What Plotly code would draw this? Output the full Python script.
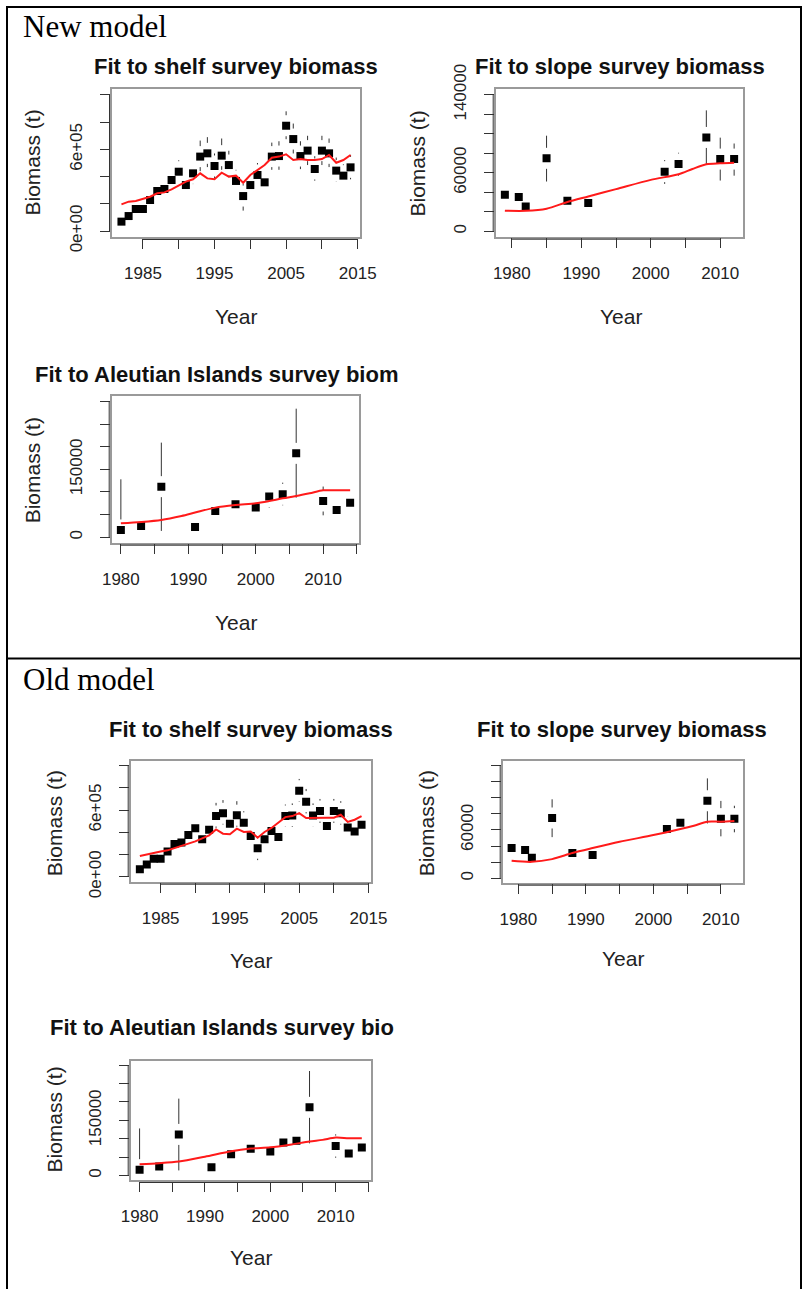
import plotly.graph_objects as go

W, H = 804, 1289

# ---------------- data (thousand tonnes -> converted to t below) ----------------
shelf_years = list(range(1982, 2015))
shelf_obs = [69, 110, 162, 162, 228, 294, 309, 375, 436, 338, 424, 547, 571, 478, 554,
             485, 368, 257, 338, 412, 358, 547, 551, 774, 676, 551, 591, 456, 591, 571,
             444, 407, 468]
shelf_lo = [58, 94, 138, 138, 195, 250, 265, 320, 360, 280, 345, 440, 470, 390, 450,
            395, 300, 150, 275, 335, 290, 450, 450, 675, 570, 455, 485, 370, 485, 470,
            365, 330, 380]
shelf_hi = [80, 128, 188, 188, 265, 345, 365, 440, 520, 400, 500, 665, 690, 570, 680,
            590, 450, 345, 410, 500, 430, 650, 660, 880, 790, 660, 700, 550, 700, 680,
            540, 490, 560]
shelf_fit_new = [196, 216, 221, 235, 252, 277, 284, 306, 333, 363, 380, 424, 387, 380,
                 429, 400, 407, 355, 412, 449, 485, 539, 547, 564, 522, 529, 522, 522,
                 529, 559, 502, 522, 559]
shelf_fit_old = [188, 203, 218, 228, 238, 258, 278, 298, 319, 346, 373, 426, 388, 382,
                 433, 403, 408, 352, 403, 439, 484, 537, 546, 573, 528, 531, 531, 531,
                 531, 558, 493, 513, 546]

slope_years = [1979, 1981, 1982, 1985, 1988, 1991, 2002, 2004, 2008, 2010, 2012]
slope_obs = [37.4, 35.0, 25.5, 74.8, 31.3, 28.9, 61.1, 69.0, 96.2, 74.0, 74.0]
slope_lo = [29, 28, 17, 51, 24, 23, 48.6, 57, 68, 52, 57]
slope_hi = [45, 45, 32, 98, 38, 34, 73, 80.5, 124, 96, 90]
slope_fit_years = [1979, 1982, 1985, 1988, 1991, 1995, 2000, 2004, 2006, 2008, 2010, 2012]
slope_fit_new = [21.1, 21.0, 23.1, 30.0, 35.7, 43.2, 52.7, 58.5, 63.9, 68.7, 69.7, 70.3]
slope_fit_old = [21.6, 20.3, 23.7, 31.2, 37.4, 45.2, 53.6, 61.0, 65.2, 70.2, 70.2, 71.0]

ai_years = [1980, 1983, 1986, 1991, 1994, 1997, 2000, 2002, 2004, 2006, 2010, 2012, 2014]
ai_obs = [16.1, 25.0, 111.8, 22.7, 58.0, 72.8, 65.5, 89.8, 94.8, 185.3, 80.1, 60.2, 76.5]
ai_lo = [3, 18, 14, 16, 41, 56.7, 49, 65.5, 70.6, 87.5, 48.5, 39.7, 54.5]
ai_hi = [128, 33, 209, 30, 76.5, 91, 82, 113, 120.6, 284, 112, 81.6, 90]
ai_fit_new_years = [1980, 1983, 1986, 1989, 1991, 1994, 1997, 2000, 2002, 2004, 2006, 2008, 2010, 2012, 2014]
ai_fit_new = [30.9, 33.8, 38.2, 47.0, 54.5, 65.5, 71.2, 75.0, 80.0, 86.0, 91.0, 97.0, 103.6, 103.6, 103.6]
ai_fit_old_years = [1980, 1983, 1986, 1990, 1994, 1997, 2000, 2003, 2006, 2008, 2010, 2012, 2014]
ai_fit_old = [30.9, 33.6, 38.0, 51.3, 66.1, 73.3, 76.7, 83.8, 92.6, 97.0, 103.2, 101.6, 101.6]

# tick labels
shelf_xticks = [1985, 1990, 1995, 2000, 2005, 2010, 2015]
shelf_xlabels = ["1985", "", "1995", "", "2005", "", "2015"]
shelf_yticks = [0, 200000, 400000, 600000, 800000, 1000000]
shelf_ylabels = ["0e+00", "", "", "6e+05", "", ""]
slope_xticks = [1980, 1985, 1990, 1995, 2000, 2005, 2010]
slope_xlabels = ["1980", "", "1990", "", "2000", "", "2010"]
slope_yticks = [0, 20000, 40000, 60000, 80000, 100000, 120000, 140000]
slope_ylabels_new = ["0", "", "", "60000", "", "", "", "140000"]
slope_ylabels_old = ["0", "", "", "60000", "", "", "", ""]
ai_xticks = [1980, 1985, 1990, 1995, 2000, 2005, 2010, 2015]
ai_xlabels = ["1980", "", "1990", "", "2000", "", "2010", ""]
ai_yticks = [0, 50000, 100000, 150000, 200000, 250000, 300000]
ai_ylabels = ["0", "", "", "150000", "", "", ""]

k = lambda a: [v * 1000 for v in a]

# ---------------- panel layout (pixel boxes) ----------------
panels = [
    dict(title="Fit to shelf survey biomass", box=(112, 360, 89, 237),
         xr=(1980.68, 2015.32), yr=(-44000, 1044000),
         yrs=shelf_years, obs=k(shelf_obs), lo=k(shelf_lo), hi=k(shelf_hi),
         fx=shelf_years, fy=k(shelf_fit_new), smooth=False,
         xt=shelf_xticks, xl=shelf_xlabels, yt=shelf_yticks, yl=shelf_ylabels,
         tpos=(236, 67), ytpos=(32.5, 163), xtpos=(236, 316)),
    dict(title="Fit to slope survey biomass", box=(495.7, 743.3, 89.3, 236.7),
         xr=(1977.68, 2013.32), yr=(-5600, 145600),
         yrs=slope_years, obs=k(slope_obs), lo=k(slope_lo), hi=k(slope_hi),
         fx=slope_fit_years, fy=k(slope_fit_new), smooth=True,
         xt=slope_xticks, xl=slope_xlabels, yt=slope_yticks, yl=slope_ylabels_new,
         tpos=(619.5, 67), ytpos=(416.5, 164), xtpos=(620.5, 316)),
    dict(title="Fit to Aleutian Islands survey biom", box=(111.7, 359.3, 396, 542.7),
         xr=(1978.64, 2015.36), yr=(-12000, 312000),
         yrs=ai_years, obs=k(ai_obs), lo=k(ai_lo), hi=k(ai_hi),
         fx=ai_fit_new_years, fy=k(ai_fit_new), smooth=True,
         xt=ai_xticks, xl=ai_xlabels, yt=ai_yticks, yl=ai_ylabels,
         tpos=(216.7, 374), ytpos=(32.5, 470.8), xtpos=(235.8, 622.5)),
    dict(title="Fit to shelf survey biomass", box=(130.7, 370.7, 760.7, 881.7),
         xr=(1980.68, 2015.32), yr=(-44000, 1044000),
         yrs=shelf_years, obs=k(shelf_obs), lo=k(shelf_lo), hi=k(shelf_hi),
         fx=shelf_years, fy=k(shelf_fit_old), smooth=False,
         xt=shelf_xticks, xl=shelf_xlabels, yt=shelf_yticks, yl=shelf_ylabels,
         tpos=(250.8, 729), ytpos=(54, 823.3), xtpos=(250.8, 960)),
    dict(title="Fit to slope survey biomass", box=(502.7, 743.3, 761, 882.7),
         xr=(1977.68, 2013.32), yr=(-5600, 145600),
         yrs=slope_years, obs=k(slope_obs), lo=k(slope_lo), hi=k(slope_hi),
         fx=slope_fit_years, fy=k(slope_fit_old), smooth=True,
         xt=slope_xticks, xl=slope_xlabels, yt=slope_yticks, yl=slope_ylabels_old,
         tpos=(621.7, 729), ytpos=(426, 823.3), xtpos=(622.5, 958.5)),
    dict(title="Fit to Aleutian Islands survey bio", box=(130.7, 370.7, 1060.7, 1180),
         xr=(1978.64, 2015.36), yr=(-12000, 312000),
         yrs=ai_years, obs=k(ai_obs), lo=k(ai_lo), hi=k(ai_hi),
         fx=ai_fit_old_years, fy=k(ai_fit_old), smooth=True,
         xt=ai_xticks, xl=ai_xlabels, yt=ai_yticks, yl=ai_ylabels,
         tpos=(222.5, 1027.5), ytpos=(53.5, 1120), xtpos=(250.8, 1257)),
]

SANS = "Liberation Sans, Arial, Helvetica, sans-serif"
SERIF = "Liberation Serif, Times New Roman, serif"
px = lambda p: p / W
py = lambda p: 1 - p / H

fig = go.Figure()
annotations = []
shapes = []
layout = {}

for i, p in enumerate(panels):
    n = "" if i == 0 else str(i + 1)
    xa, ya = "x" + n, "y" + n
    l, r, t, b = p["box"]
    gap = 10.5 * (p["yr"][1] - p["yr"][0]) / (b - t)

    # confidence-interval segments with a gap around each point (plotCI style)
    cx, cy = [], []
    for x, o, lo, hi in zip(p["yrs"], p["obs"], p["lo"], p["hi"]):
        if hi > o + gap:
            cx += [x, x, None]; cy += [o + gap, hi, None]
        if lo < o - gap:
            cx += [x, x, None]; cy += [lo, o - gap, None]
    fig.add_trace(go.Scatter(x=cx, y=cy, mode="lines", xaxis=xa, yaxis=ya,
                             line=dict(color="#333333", width=1), hoverinfo="skip",
                             showlegend=False))
    fig.add_trace(go.Scatter(x=p["yrs"], y=p["obs"], mode="markers", xaxis=xa, yaxis=ya,
                             marker=dict(symbol="square", size=8, color="black",
                                         line=dict(width=0)),
                             showlegend=False))
    fig.add_trace(go.Scatter(x=p["fx"], y=p["fy"], mode="lines", xaxis=xa, yaxis=ya,
                             line=dict(color="#ff1a1a", width=2,
                                       shape="spline" if p["smooth"] else "linear",
                                       smoothing=0.8),
                             showlegend=False))

    common = dict(showgrid=False, zeroline=False, showline=True, mirror=True,
                  automargin=False,
                  linecolor="#9a9a9a", linewidth=1.5, ticks="outside", ticklen=10,
                  tickwidth=1, tickcolor="#333", fixedrange=True,
                  tickfont=dict(family=SANS, size=17, color="#222"))
    layout["xaxis" + n] = dict(common, domain=[px(l), px(r)], range=list(p["xr"]),
                               anchor=ya, tickmode="array", tickvals=p["xt"],
                               ticktext=p["xl"], tickangle=0, ticklabelstandoff=10)
    layout["yaxis" + n] = dict(common, domain=[py(b), py(t)], range=list(p["yr"]),
                               anchor=xa, tickmode="array", tickvals=p["yt"],
                               ticktext=p["yl"], tickangle=-90, ticklabelstandoff=11)

    # R-style axis lines spanning first..last tick, just outside the box
    shapes.append(dict(type="line", xref="paper", yref=ya, x0=px(l - 2.5), x1=px(l - 2.5),
                       y0=p["yt"][0], y1=p["yt"][-1], line=dict(color="#333", width=1)))
    shapes.append(dict(type="line", xref=xa, yref="paper", x0=p["xt"][0], x1=p["xt"][-1],
                       y0=py(b + 2.5), y1=py(b + 2.5), line=dict(color="#333", width=1)))

    annotations.append(dict(text="<b>" + p["title"] + "</b>", x=px(p["tpos"][0]),
                            y=py(p["tpos"][1]), xref="paper", yref="paper",
                            xanchor="center", yanchor="middle", showarrow=False,
                            font=dict(family=SANS, size=22, color="#111")))
    annotations.append(dict(text="Biomass (t)", x=px(p["ytpos"][0]), y=py(p["ytpos"][1]),
                            xref="paper", yref="paper", xanchor="center", yanchor="middle",
                            textangle=-90, showarrow=False,
                            font=dict(family=SANS, size=21, color="#222")))
    annotations.append(dict(text="Year", x=px(p["xtpos"][0]), y=py(p["xtpos"][1]),
                            xref="paper", yref="paper", xanchor="center", yanchor="middle",
                            showarrow=False, font=dict(family=SANS, size=21, color="#222")))

# table headings
annotations.append(dict(text="New model", x=px(21), y=py(26.5), xref="paper", yref="paper",
                        xanchor="left", yanchor="middle", showarrow=False,
                        font=dict(family=SERIF, size=31, color="black")))
annotations.append(dict(text="Old model", x=px(21), y=py(679), xref="paper", yref="paper",
                        xanchor="left", yanchor="middle", showarrow=False,
                        font=dict(family=SERIF, size=31, color="black")))

# table borders
border = dict(color="black", width=2)
shapes += [
    dict(type="line", xref="paper", yref="paper", x0=px(6), x1=px(802), y0=py(7), y1=py(7), line=border),
    dict(type="line", xref="paper", yref="paper", x0=px(7), x1=px(7), y0=py(6), y1=py(1289), line=border),
    dict(type="line", xref="paper", yref="paper", x0=px(801), x1=px(801), y0=py(6), y1=py(1289), line=border),
    dict(type="line", xref="paper", yref="paper", x0=px(6), x1=px(802), y0=py(658.5), y1=py(658.5), line=border),
]

fig.update_layout(width=W, height=H, margin=dict(l=0, r=0, t=0, b=0, autoexpand=False),
                  paper_bgcolor="white", plot_bgcolor="white",
                  showlegend=False, annotations=annotations, shapes=shapes, **layout)

post = "document.body.style.margin='0';document.documentElement.style.overflow='hidden';"
fig.write_html("out.html", config={"displayModeBar": False}, post_script=post)
